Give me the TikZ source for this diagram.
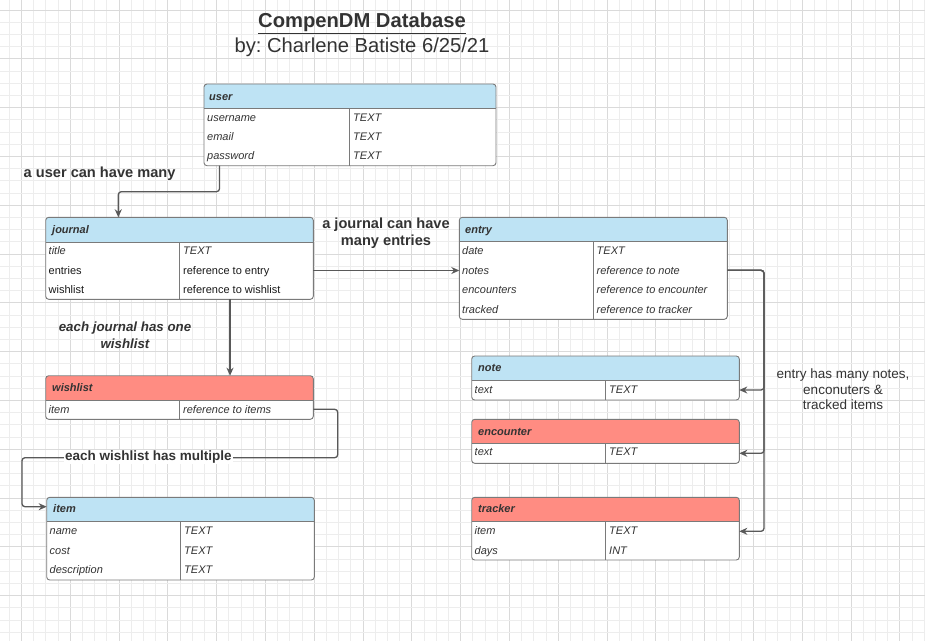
\documentclass[tikz,border=0pt]{standalone}
\usepackage{fontspec}
\setmainfont{Liberation Sans}
\usetikzlibrary{arrows.meta}
\frenchspacing
\definecolor{gridminor}{HTML}{EDEDED}
\definecolor{gridmajor}{HTML}{DADADA}
\definecolor{hdrblue}{HTML}{BEE3F4}
\definecolor{hdrred}{HTML}{FF8C82}
\definecolor{tline}{HTML}{7A7A7A}
\definecolor{txt}{HTML}{333333}
\definecolor{connc}{HTML}{595959}

\tikzset{
 tbl/.style={draw=tline, line width=0.9pt},
 hdrtext/.style={font=\fontsize{11}{13}\selectfont\bfseries\itshape, text=txt, anchor=west, inner sep=0pt, text height=8pt, text depth=0pt},
 celltext/.style={font=\fontsize{11}{13}\selectfont\itshape, text=txt, anchor=west, inner sep=0pt, text height=8pt, text depth=0pt},
 celltextup/.style={font=\fontsize{11}{13}\selectfont, text=black!90, anchor=west, inner sep=0pt, text height=8pt, text depth=0pt},
 connline/.style={draw=connc, line width=1.3pt, rounded corners=3pt},
 arr/.style={connline, -{Stealth[length=8pt,width=7pt]}},
 lbl/.style={font=\fontsize{13.5}{16.5}\selectfont\bfseries, text=txt, align=center, inner sep=1pt},
}

\newcommand{\erdbox}[8]{%
 \begin{scope}
 \clip[rounded corners=3pt] (#2,#3) rectangle (#4,#6);
 \fill[white] (#2,#3) rectangle (#4,#6);
 \fill[#8] (#2,#3) rectangle (#4,#5);
 \end{scope}
 \draw[tbl, rounded corners=3pt] (#2,#3) rectangle (#4,#6);
 \draw[tbl] (#2,#5) -- (#4,#5);
 \draw[tbl] (#7,#5) -- (#7,#6);
 \path (#2,#3) coordinate (#1-nw) (#4,#6) coordinate (#1-se);
}

\begin{document}
\begin{tikzpicture}[x=1pt,y=-1pt]
\useasboundingbox (0,0) rectangle (925,641);
\fill[white] (0,0) rectangle (925,641);
\begin{scope}
\clip (0,0) rectangle (925,641);
\foreach \i in {0,...,75} {
  \pgfmathsetmacro\xx{9.1+12.2*\i}
  \pgfmathtruncatemacro\mm{mod(\i,4)}
  \ifnum\mm=1 \draw[gridmajor, line width=0.8pt] (\xx,0) -- (\xx,641);
  \else \draw[gridminor, line width=0.75pt] (\xx,0) -- (\xx,641); \fi
}
\foreach \i in {0,...,52} {
  \pgfmathsetmacro\yy{10+12.2*\i}
  \pgfmathtruncatemacro\mm{mod(\i,4)}
  \ifnum\mm=0 \draw[gridmajor, line width=0.8pt] (0,\yy) -- (925,\yy);
  \else \draw[gridminor, line width=0.75pt] (0,\yy) -- (925,\yy); \fi
}
\end{scope}

% title
\node[font=\fontsize{20.2}{24}\selectfont\bfseries, text=txt, inner sep=0pt] (title) at (362,23) {\underline{CompenDM Database}};
\node[font=\fontsize{20.2}{23}\selectfont, text=txt, inner sep=0pt] (subtitle) at (362,47) {by: Charlene Batiste 6/25/21};

% user
\erdbox{user}{204}{84}{496}{108}{165.7}{349.5}{hdrblue}
\node[hdrtext] (userh) at (209,96) {user};
\node[celltext] (u1) at (207,117) {username};
\node[celltext] (u2) at (207,136) {email};
\node[celltext] (u3) at (207,155) {password};
\node[celltext] (u1t) at (353,117) {TEXT};
\node[celltext] (u2t) at (353,136) {TEXT};
\node[celltext] (u3t) at (353,155) {TEXT};

% journal
\erdbox{journal}{45.7}{217.3}{313.3}{242}{299.3}{179.3}{hdrblue}
\node[hdrtext] (journalh) at (52,229.5) {journal};
\node[celltext] (j1) at (48.5,250) {title};
\node[celltextup] (j2) at (48.5,270.5) {entries};
\node[celltextup] (j3) at (48.5,289.5) {wishlist};
\node[celltext] (j1t) at (183,250) {TEXT};
\node[celltextup] (j2t) at (183,270.5) {reference to entry};
\node[celltextup] (j3t) at (183,289.5) {reference to wishlist};

% entry
\erdbox{entry}{459.3}{217.3}{727.3}{241.7}{319.3}{593.3}{hdrblue}
\node[hdrtext] (entryh) at (465,229.5) {entry};
\node[celltext] (e1) at (462,250) {date};
\node[celltext] (e2) at (462,270.3) {notes};
\node[celltext] (e3) at (462,289.7) {encounters};
\node[celltext] (e4) at (462,309) {tracked};
\node[celltext] (e1t) at (596.5,250) {TEXT};
\node[celltext] (e2t) at (596.5,270.3) {reference to note};
\node[celltext] (e3t) at (596.5,289.7) {reference to encounter};
\node[celltext] (e4t) at (596.5,309) {reference to tracker};

% wishlist
\erdbox{wishlist}{45.7}{375.7}{313.3}{400}{419.3}{179.3}{hdrred}
\node[hdrtext] (wishlisth) at (52,387.5) {wishlist};
\node[celltext] (w1) at (48.5,409.3) {item};
\node[celltext] (w1t) at (183,409.3) {reference to items};

% item
\erdbox{item}{46.7}{497.3}{314.3}{521.7}{580}{180.3}{hdrblue}
\node[hdrtext] (itemh) at (53,508.5) {item};
\node[celltext] (i1) at (49.5,530.7) {name};
\node[celltext] (i2) at (49.5,550.3) {cost};
\node[celltext] (i3) at (49.5,569.3) {description};
\node[celltext] (i1t) at (184,530.7) {TEXT};
\node[celltext] (i2t) at (184,550.3) {TEXT};
\node[celltext] (i3t) at (184,569.3) {TEXT};

% note
\erdbox{note}{471.7}{356}{739.3}{380}{400}{605.7}{hdrblue}
\node[hdrtext] (noteh) at (478,367) {note};
\node[celltext] (n1) at (474.5,389.3) {text};
\node[celltext] (n1t) at (609,389.3) {TEXT};

% encounter
\erdbox{encounter}{471.7}{419.3}{739.3}{443.7}{463.3}{605.7}{hdrred}
\node[hdrtext] (encounterh) at (478,431) {encounter};
\node[celltext] (c1) at (474.5,451.7) {text};
\node[celltext] (c1t) at (609,451.7) {TEXT};

% tracker
\erdbox{tracker}{471.7}{497.3}{739.3}{521.7}{560}{605.7}{hdrred}
\node[hdrtext] (trackerh) at (478,508.5) {tracker};
\node[celltext] (t1) at (474.5,530.7) {item};
\node[celltext] (t2) at (474.5,550.3) {days};
\node[celltext] (t1t) at (609,530.7) {TEXT};
\node[celltext] (t2t) at (609,550.3) {INT};

% connection points
\coordinate (user-b) at (219.5,165.7);
\coordinate (journal-t) at (118.3,217.3);
\coordinate (journal-e) at (313.3,270.5);
\coordinate (entry-w) at (459.3,270.5);
\coordinate (journal-b) at (230,299.3);
\coordinate (wishlist-t) at (230,375.7);
\coordinate (wishlist-e) at (313.3,409.3);
\coordinate (item-w) at (46.7,506.7);
\coordinate (entry-e) at (727.3,270.3);
\coordinate (note-e) at (739.3,390);
\coordinate (encounter-e) at (739.3,453.3);
\coordinate (tracker-e) at (739.3,531.3);

% connectors
\draw[arr] (user-b) -- (219.5,191.7) -- (118.3,191.7) -- (journal-t);
\draw[arr] (journal-e) -- (entry-w);
\draw[arr] (journal-b) -- (wishlist-t);
\draw[arr] (wishlist-e) -- (337.7,409.3) -- (337.7,457.7) -- (22,457.7) -- (22,506.7) -- (item-w);
\draw[arr] (entry-e) -- (764,270.3) -- (764,390) -- (note-e);
\draw[arr] (entry-e) -- (764,270.3) -- (764,453.3) -- (encounter-e);
\draw[arr] (entry-e) -- (764,270.3) -- (764,531.3) -- (tracker-e);

% labels
\node[lbl, anchor=west, font=\fontsize{14.6}{17.5}\selectfont\bfseries] (l1) at (22.5,173.3) {a user can have many};
\node[lbl, font=\fontsize{14.6}{17}\selectfont\bfseries] (l2) at (386,233.5) {a journal can have\\many entries};
\node[lbl, font=\fontsize{13.3}{16.5}\selectfont\bfseries\itshape] (l3) at (125,335) {each journal has one\\wishlist};
\node[lbl, fill=white] (l4) at (148.3,457) {each wishlist has multiple};
\node[lbl, font=\fontsize{13.5}{15.5}\selectfont] (l5) at (843,389.5) {entry has many notes,\\enconuters \&\\tracked items};
\end{tikzpicture}
\end{document}
